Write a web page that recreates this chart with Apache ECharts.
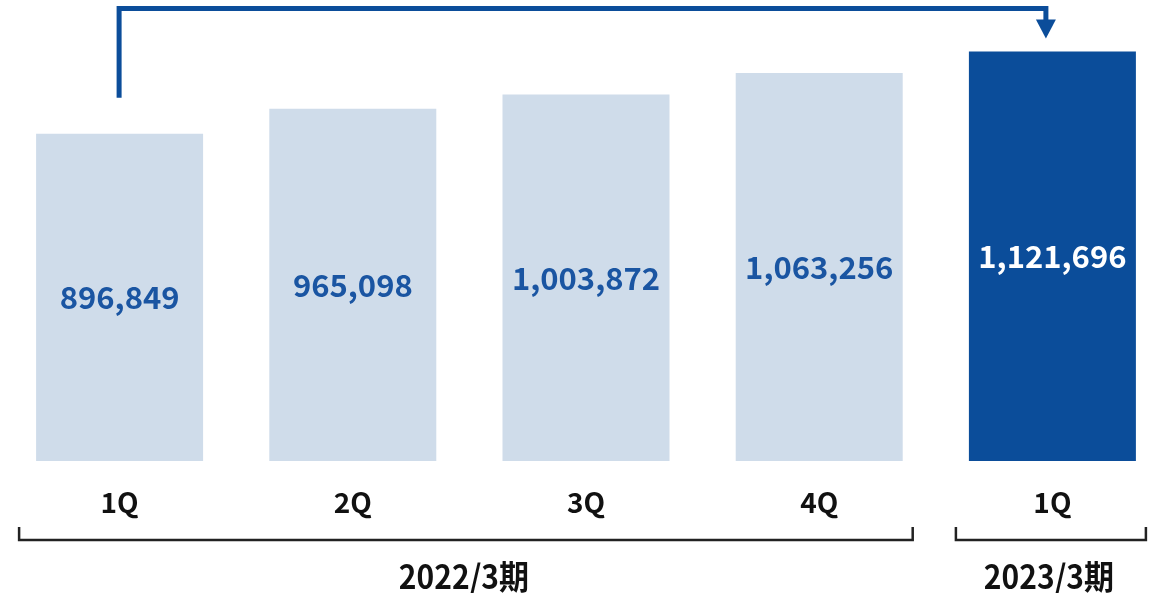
<!DOCTYPE html>
<html>
<head>
<meta charset="utf-8">
<script src="https://cdn.jsdelivr.net/npm/echarts@6/dist/echarts.min.js"></script>
<style>
  html, body { margin: 0; padding: 0; background: #fff; }
  #chart { width: 1171px; height: 593px; }
</style>
</head>
<body>
<div id="chart"></div>
<script>
// Quarterly figures, fiscal years ending March
const categories = ['1Q', '2Q', '3Q', '4Q', '1Q'];
const values = [896849, 965098, 1003872, 1063256, 1121696];
const periodLabels = ['2022/3期', '2023/3期'];
// which categories each period bracket spans (first, last index)
const periodRanges = [[0, 3], [4, 4]];

const FONT = '"Noto Sans CJK JP", "Noto Sans", sans-serif';
const LIGHT = '#cfdcea';
const DARK = '#0b4d9a';

const chart = echarts.init(document.getElementById('chart'), null, { renderer: 'canvas' });

const last = values.length - 1;

chart.setOption({
  animation: false,
  grid: { left: 3, right: 2, top: 23, bottom: 132 },
  xAxis: {
    type: 'category',
    data: categories,
    axisLine: { show: false },
    axisTick: { show: false },
    axisLabel: {
      margin: 27,
      fontFamily: FONT,
      fontWeight: 'bold',
      fontSize: 28,
      color: '#111'
    }
  },
  yAxis: {
    type: 'value',
    min: 0,
    max: 1200000,
    show: false,
    splitLine: { show: false }
  },
  series: [{
    type: 'bar',
    barWidth: 167,
    data: values.map((v, i) => ({
      value: v,
      itemStyle: { color: i === last ? DARK : LIGHT },
      label: { color: i === last ? '#fff' : '#1a55a2' }
    })),
    label: {
      show: true,
      position: 'inside',
      fontFamily: FONT,
      fontWeight: 'bold',
      fontSize: 31,
      formatter: p => p.value.toLocaleString('en-US')
    }
  }]
});

// Annotations: growth arrow from the first to the last quarter, and period brackets
function px(i, v) {
  return chart.convertToPixel({ xAxisIndex: 0, yAxisIndex: 0 }, [i, v]);
}

const halfBar = 167 / 2;
const graphics = [];

// arrow: rises from above the first bar, runs across, drops onto the last bar
const [x0, top0] = px(0, values[0]);
const [x1, top1] = px(last, values[last]);
const arrowX0 = x0 - 0.5;
const arrowX1 = x1 - 6.5;
const railY = 8.5;
const headTip = top1 - 13;
const headBase = headTip - 19;
graphics.push({
  type: 'polyline',
  shape: { points: [[arrowX0, top0 - 36], [arrowX0, railY], [arrowX1, railY], [arrowX1, headBase + 1]] },
  style: { stroke: DARK, lineWidth: 5, fill: null, lineJoin: 'miter' }
});
graphics.push({
  type: 'polygon',
  shape: { points: [[arrowX1 - 10, headBase], [arrowX1 + 10, headBase], [arrowX1, headTip]] },
  style: { fill: DARK }
});

// brackets with period labels
const bracketY = 540;
const tickH = 13;
periodRanges.forEach(([a, b], k) => {
  const left = px(a, 0)[0] - halfBar - (k === 0 ? 17 : 13);
  const right = px(b, 0)[0] + halfBar + 10;
  graphics.push({
    type: 'polyline',
    shape: { points: [[left, bracketY - tickH], [left, bracketY], [right, bracketY], [right, bracketY - tickH]] },
    style: { stroke: '#222', lineWidth: 2.5, fill: null }
  });
  graphics.push({
    type: 'text',
    x: (left + right) / 2 - 2,
    y: 576,
    scaleY: 1.1,
    style: {
      text: periodLabels[k],
      fontFamily: FONT,
      fontWeight: 'bold',
      fontSize: 30,
      fill: '#111',
      align: 'center',
      verticalAlign: 'middle'
    }
  });
});

chart.setOption({ graphic: graphics });
</script>
</body>
</html>
